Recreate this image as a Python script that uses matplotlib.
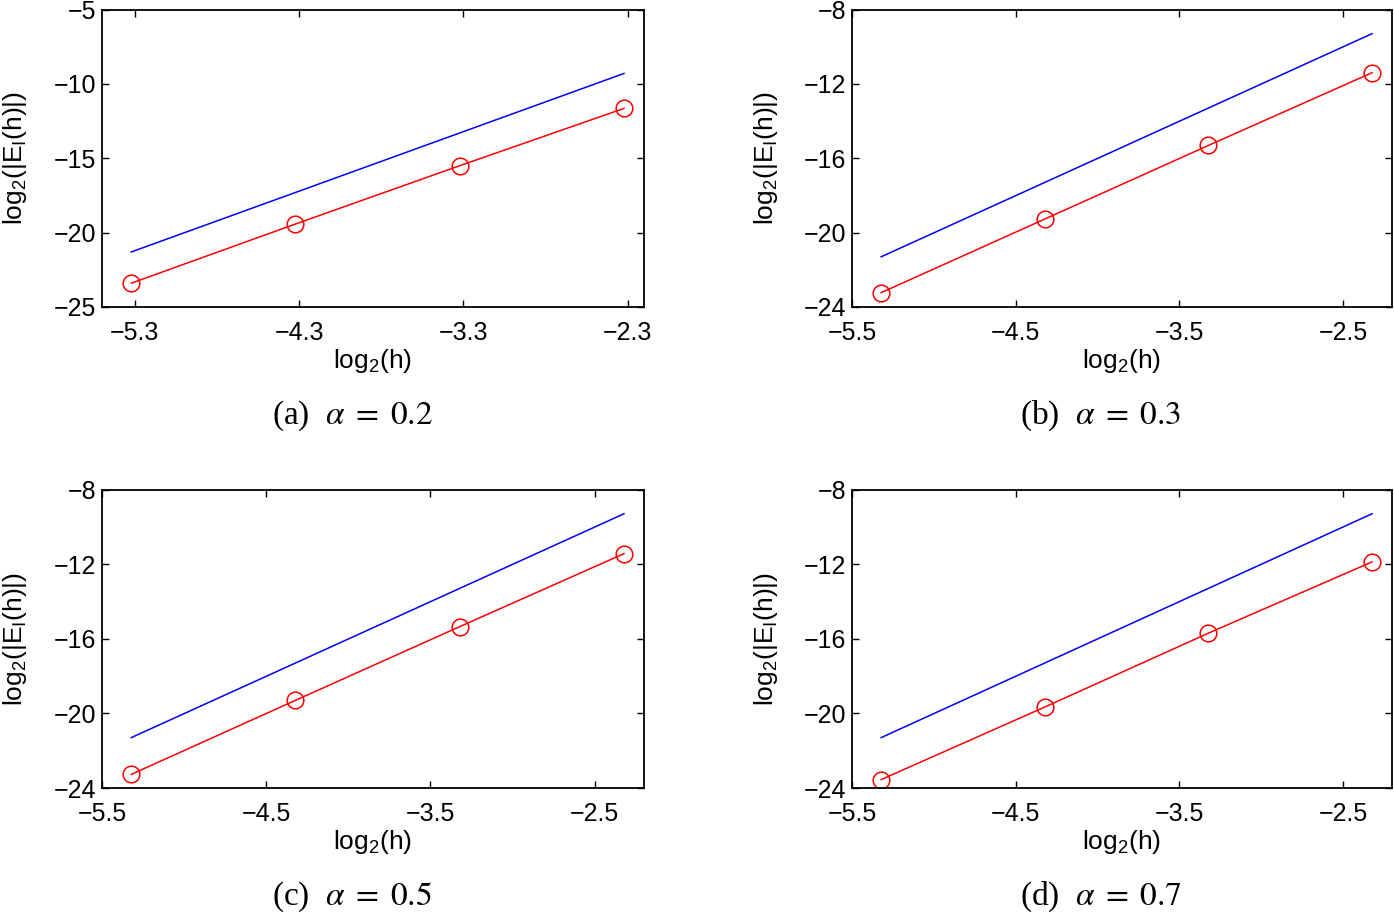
import matplotlib
matplotlib.use("Agg")
import matplotlib.pyplot as plt

plt.rcParams["font.family"] = ["Liberation Sans", "DejaVu Sans"]
plt.rcParams["mathtext.fontset"] = "custom"
plt.rcParams["mathtext.rm"] = "Liberation Sans"
plt.rcParams["mathtext.it"] = "Liberation Sans:italic"

# log2(h) for h = 1/40, 1/20, 1/10, 1/5
log_h = [-5.3219, -4.3219, -3.3219, -2.3219]

# reference slope line (blue), same in every panel
ref_err = [-21.3, -9.3]
ref_h = [log_h[0], log_h[-1]]

# computed errors (red circles)
err_a = [-23.4, -19.42, -15.5, -11.65]
err_b = [-23.23, -19.27, -15.31, -11.4]
err_c = [-23.27, -19.3, -15.35, -11.44]
err_d = [-23.55, -19.66, -15.7, -11.88]

alphas = ["0.2", "0.3", "0.5", "0.7"]
letters = ["a", "b", "c", "d"]

W, H = 1394, 915
fig = plt.figure(figsize=(W / 100, H / 100), dpi=100)

# axes boxes in pixels: left, right, top, bottom
boxes = [(102, 644, 9.5, 307), (852, 1392, 9.5, 307),
         (102, 644, 489.5, 788), (852, 1392, 489.5, 788)]

panels = [err_a, err_b, err_c, err_d]
ylims = [(-25, -5), (-24, -8), (-24, -8), (-24, -8)]
yticks = [[-25, -20, -15, -10, -5], [-24, -20, -16, -12, -8],
          [-24, -20, -16, -12, -8], [-24, -20, -16, -12, -8]]
xticks_a = [-5.3, -4.3, -3.3, -2.3]
xticks_other = [-5.5, -4.5, -3.5, -2.5]

for i, (err, (l, r, t, b)) in enumerate(zip(panels, boxes)):
    ax = fig.add_axes([l / W, 1 - b / H, (r - l) / W, (b - t) / H])
    ax.plot(ref_h, ref_err, color="#0000ff", lw=1.1)
    ax.plot(log_h, err, color="#ff0000", lw=1.1, marker="o", ms=12,
            mfc="none", mec="#ff0000", mew=1.1)
    ax.set_xlim(-5.5, -2.2)
    ax.set_ylim(*ylims[i])
    ax.set_yticks(yticks[i])
    if i == 0:
        ax.set_xticks(xticks_a)
        ax.set_xticklabels(["\u22125.3", "\u22124.3", "\u22123.3", "\u22122.3"])
    else:
        ax.set_xticks(xticks_other)
        ax.set_xticklabels(["\u22125.5", "\u22124.5", "\u22123.5", "\u22122.5"])
    ax.tick_params(direction="in", top=True, right=True, length=5, width=1,
                   labelsize=18)
    ax.tick_params(axis="x", pad=10)
    ax.tick_params(axis="y", pad=4)
    for s in ax.spines.values():
        s.set_linewidth(1.3)
    ax.set_xlabel("log$_2$(h)", fontsize=19)
    ax.set_ylabel("log$_2$(|E$_{\\rm I}$(h)|)", fontsize=19)
    ax.xaxis.set_label_coords(0.5, -0.135)
    ax.yaxis.set_label_coords(-0.134, 0.5)
    cx = ((l + r) / 2 - 21) / W
    cy = 1 - (b + 109) / H
    fig.text(cx, cy, "(%s)  $\\alpha \\;=\\; %s$" % (letters[i], alphas[i]),
             ha="center", va="center", fontsize=24,
             family="Liberation Serif", math_fontfamily="stix")

fig.savefig("out.png", dpi=100)
